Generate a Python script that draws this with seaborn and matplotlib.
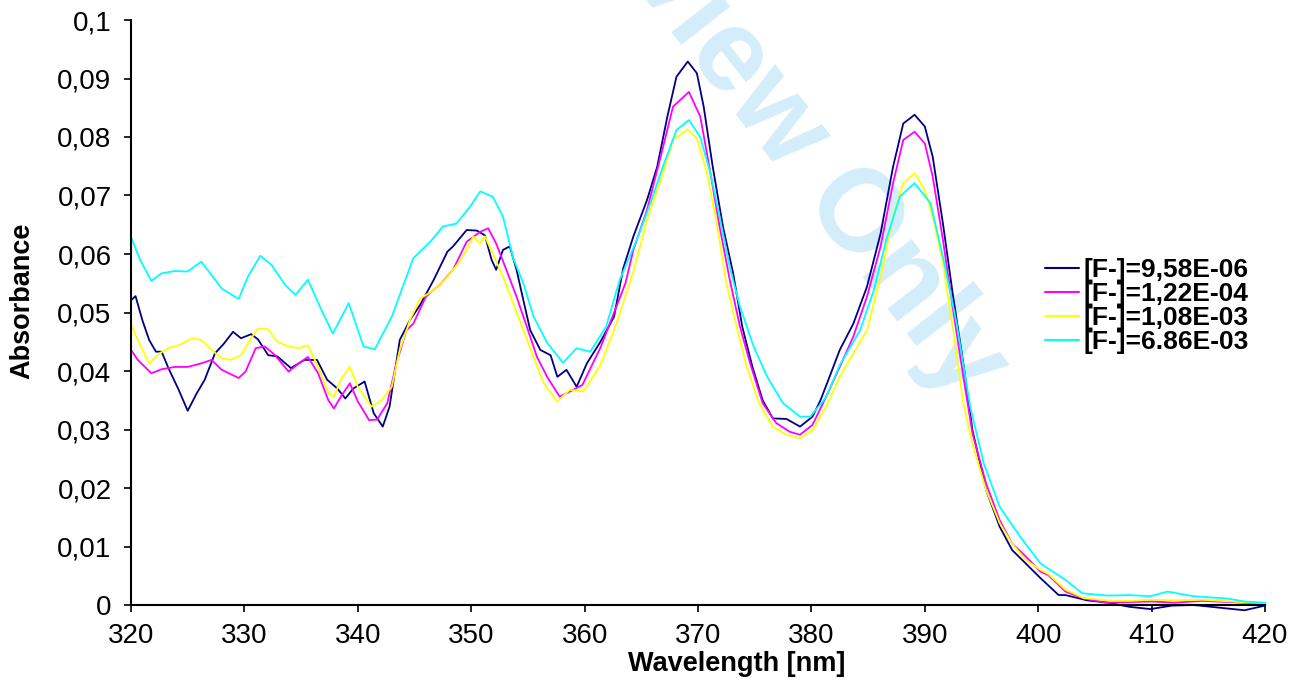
import numpy as np
import pandas as pd
import seaborn as sns
import matplotlib.pyplot as plt

# spectra (wavelength nm, absorbance)
navy_wl = [320, 320.4, 321, 321.6, 322.2, 322.7, 323.3, 324.2, 325, 325.8, 326.5, 327.4, 328.2, 329, 329.7,
           330.6, 331.2, 332.1, 332.9, 334.1, 335.3, 336.4, 337.3, 338.2, 338.9, 339.6, 340.6, 341.4, 342.2,
           342.8, 343.7, 344.6, 345.5, 346.7, 347.9, 348.4, 349.6, 350.5, 351.2, 351.8, 352.2, 352.8, 353.4,
           354, 354.6, 355.2, 356.1, 357, 357.6, 358.4, 359.3, 360.2, 361.4, 362.6, 363.4, 364.3, 365.5,
           366.4, 367.3, 368.1, 369.1, 369.9, 370.5, 371.3, 372.2, 373.1, 373.9, 374.8, 375.7, 376.6, 377.8,
           379, 380.1, 380.8, 381.5, 382.5, 383.7, 384.9, 386.1, 387.2, 388.1, 389.1, 390, 390.7, 391.6,
           392.5, 393.4, 394.2, 395.4, 396.6, 397.7, 398.9, 400.2, 401.8, 402.4, 404.3, 406.2, 408, 409.9,
           411.8, 413.7, 416.7, 418.2, 420]
navy_abs = [0.0521, 0.0528, 0.0487, 0.0453, 0.0433, 0.0433, 0.0405, 0.0368, 0.0332, 0.0362, 0.0385, 0.0430,
            0.0447, 0.0467, 0.0456, 0.0463, 0.0454, 0.0427, 0.0425, 0.0405, 0.0419, 0.0419, 0.0385, 0.0370,
            0.0353, 0.0370, 0.0382, 0.0328, 0.0305, 0.0339, 0.0453, 0.0487, 0.0513, 0.0556, 0.0604, 0.0613,
            0.0641, 0.0640, 0.0632, 0.0590, 0.0573, 0.0607, 0.0613, 0.0573, 0.0521, 0.0470, 0.0436, 0.0427,
            0.0390, 0.0402, 0.0373, 0.0413, 0.0450, 0.0493, 0.0575, 0.0630, 0.0692, 0.0749, 0.0835, 0.0903,
            0.0929, 0.0909, 0.0852, 0.0749, 0.0647, 0.0567, 0.0476, 0.0407, 0.0350, 0.0319, 0.0318, 0.0305,
            0.0322, 0.0350, 0.0385, 0.0436, 0.0481, 0.0544, 0.0635, 0.0749, 0.0823, 0.0838, 0.0818, 0.0766,
            0.0652, 0.0527, 0.0413, 0.0299, 0.0197, 0.0134, 0.0094, 0.0071, 0.0046, 0.0017, 0.0017, 0.0008,
            0.0004, -0.0003, -0.0007, -0.0001, 0.0, -0.0006, -0.0009, -0.0001]

magenta_wl = [320, 320.6, 321.8, 322.7, 323.9, 325, 326.2, 327.1, 328, 329.5, 330.1, 331, 331.8, 332.7,
              333.9, 334.8, 335.6, 336.5, 337.4, 337.9, 338.5, 339.3, 340, 341, 341.7, 342.6, 343.4, 344.3,
              344.9, 346, 347.2, 348.4, 349.6, 350.8, 351.5, 352.2, 353.1, 354, 354.9, 355.8, 356.7, 357.8,
              359, 359.8, 361.4, 362.8, 363.6, 364.3, 365.5, 366.7, 367.8, 369.2, 370.2, 371.1, 371.9, 372.8,
              373.7, 374.6, 375.7, 376.9, 378.1, 379, 380.1, 381.3, 382.5, 383.7, 384.9, 386.1, 387.2, 388.1,
              389.1, 390, 390.7, 391.6, 392.5, 393.4, 394.2, 395.4, 396.6, 397.7, 398.9, 400.2, 400.9, 402.4,
              404, 406, 408, 410, 412, 414.5, 417, 420]
magenta_abs = [0.0436, 0.0419, 0.0396, 0.0403, 0.0407, 0.0407, 0.0413, 0.0419, 0.0402, 0.0388, 0.0399,
               0.0439, 0.0442, 0.0427, 0.0399, 0.0413, 0.0424, 0.0396, 0.0350, 0.0336, 0.0356, 0.0379, 0.0348,
               0.0316, 0.0317, 0.0345, 0.0413, 0.0470, 0.0481, 0.0527, 0.0547, 0.0573, 0.0621, 0.0638, 0.0644,
               0.0618, 0.0573, 0.0527, 0.0476, 0.0424, 0.0390, 0.0356, 0.0368, 0.0376, 0.0440, 0.0510, 0.0550,
               0.0607, 0.0675, 0.0766, 0.0852, 0.0877, 0.0835, 0.0738, 0.0647, 0.0556, 0.0476, 0.0413, 0.0345,
               0.0311, 0.0296, 0.0291, 0.0308, 0.0356, 0.0407, 0.0459, 0.0527, 0.0613, 0.0721, 0.0795, 0.0809,
               0.0789, 0.0732, 0.0624, 0.0504, 0.0390, 0.0294, 0.0208, 0.0145, 0.0105, 0.0083, 0.0057, 0.0051,
               0.0023, 0.0011, 0.0004, 0.0005, 0.0006, 0.0004, 0.0007, 0.0005, 0.0002]

yellow_wl = [320, 320.6, 321.6, 322.5, 323.3, 324.2, 325.4, 326.2, 327.1, 328, 328.8, 329.7, 330.6, 331.2,
             332.1, 332.9, 333.9, 334.8, 335.6, 336.5, 337.4, 337.9, 338.5, 339.3, 340, 341.2, 342.1, 343,
             343.7, 344.6, 345.5, 346.7, 347.9, 349.1, 350.2, 350.8, 351.2, 351.9, 352.8, 353.7, 354.6, 355.5,
             356.4, 357.6, 358.7, 359.9, 361.4, 362.8, 364.3, 365.5, 366.7, 367.8, 369.1, 369.9, 370.8, 371.7,
             372.5, 373.4, 374.3, 375.4, 376.6, 377.8, 379, 380.1, 381.3, 382.5, 383.7, 384.9, 386.1, 387.2,
             388.1, 389.1, 390, 390.7, 391.6, 392.5, 393.4, 394.2, 395.4, 396.6, 397.7, 398.9, 400.2, 400.9,
             402.4, 404, 406, 408, 410, 412, 414.5, 417, 420]
yellow_abs = [0.0479, 0.0453, 0.0413, 0.0430, 0.0439, 0.0444, 0.0456, 0.0453, 0.0436, 0.0422, 0.0419, 0.0427,
              0.0456, 0.0473, 0.0471, 0.0450, 0.0442, 0.0439, 0.0444, 0.0407, 0.0362, 0.0356, 0.0385, 0.0407,
              0.0373, 0.0339, 0.0350, 0.0373, 0.0436, 0.0487, 0.0524, 0.0538, 0.0561, 0.0590, 0.0630, 0.0618,
              0.0630, 0.0601, 0.0561, 0.0516, 0.0470, 0.0424, 0.0379, 0.0348, 0.0368, 0.0365, 0.0410, 0.0481,
              0.0570, 0.0658, 0.0726, 0.0795, 0.0813, 0.0798, 0.0738, 0.0647, 0.0550, 0.0476, 0.0407, 0.0345,
              0.0305, 0.0291, 0.0285, 0.0299, 0.0339, 0.0390, 0.0430, 0.0470, 0.0561, 0.0664, 0.0721, 0.0738,
              0.0709, 0.0664, 0.0584, 0.0470, 0.0345, 0.0276, 0.0197, 0.0140, 0.0105, 0.0077, 0.0060, 0.0053,
              0.0026, 0.0012, 0.0008, 0.0007, 0.0009, 0.0008, 0.0009, 0.0006, 0.0003]

cyan_wl = [320, 320.8, 321.8, 322.7, 323.9, 325, 326.2, 327.1, 328, 329.5, 330.3, 331.4, 332.4, 333.6, 334.5,
           335.6, 336.8, 337.8, 339.2, 340.5, 341.5, 343, 343.7, 344.9, 346.4, 347.5, 348.7, 349.9, 350.8,
           351.9, 352.8, 353.7, 354.6, 355.5, 356.7, 358.1, 359.3, 360.5, 361.9, 363.1, 364.6, 365.8, 366.9,
           368.1, 369.2, 370.2, 371.1, 371.9, 372.8, 373.7, 374.9, 376.1, 377.5, 379, 379.9, 381.3, 382.5,
           384.3, 385.5, 386.6, 387.8, 389.1, 390.5, 391.6, 392.8, 394, 395.2, 396.6, 398.4, 400.2, 402.4,
           403.9, 406.2, 408, 409.9, 411.4, 413.7, 416.7, 418.2, 420]
cyan_abs = [0.0629, 0.0590, 0.0554, 0.0567, 0.0571, 0.0570, 0.0587, 0.0564, 0.0541, 0.0523, 0.0561, 0.0597,
            0.0581, 0.0547, 0.0530, 0.0556, 0.0504, 0.0464, 0.0516, 0.0442, 0.0437, 0.0493, 0.0530, 0.0593,
            0.0621, 0.0647, 0.0652, 0.0681, 0.0707, 0.0698, 0.0664, 0.0593, 0.0550, 0.0493, 0.0448, 0.0414,
            0.0439, 0.0433, 0.0476, 0.0556, 0.0624, 0.0687, 0.0749, 0.0812, 0.0829, 0.0800, 0.0738, 0.0664,
            0.0578, 0.0510, 0.0442, 0.0390, 0.0345, 0.0322, 0.0322, 0.0355, 0.0410, 0.0470, 0.0538, 0.0624,
            0.0698, 0.0721, 0.0687, 0.0595, 0.0482, 0.0339, 0.0242, 0.0168, 0.0117, 0.0071, 0.0043, 0.0020,
            0.0016, 0.0017, 0.0015, 0.0023, 0.0015, 0.0011, 0.0006, 0.0004]

series_labels = ["[F-]=9,58E-06", "[F-]=1,22E-04", "[F-]=1,08E-03", "[F-]=6.86E-03"]
series_colors = ["#000080", "#ff00ff", "#ffff00", "#00ffff"]

x_ticks = [320, 330, 340, 350, 360, 370, 380, 390, 400, 410, 420]
y_ticks = [0, 0.01, 0.02, 0.03, 0.04, 0.05, 0.06, 0.07, 0.08, 0.09, 0.1]
y_tick_labels = ["0", "0,01", "0,02", "0,03", "0,04", "0,05", "0,06", "0,07", "0,08", "0,09", "0,1"]

frames = []
for lab, wl, ab in zip(series_labels,
                       [navy_wl, magenta_wl, yellow_wl, cyan_wl],
                       [navy_abs, magenta_abs, yellow_abs, cyan_abs]):
    frames.append(pd.DataFrame({"wl": wl, "abs": ab, "series": lab}))
df = pd.concat(frames, ignore_index=True)

sns.set_style("white")
plt.rcParams['font.family'] = ['Liberation Sans', 'DejaVu Sans']
plt.rcParams['text.color'] = 'black'
plt.rcParams['axes.labelcolor'] = 'black'
plt.rcParams['xtick.color'] = 'black'
plt.rcParams['ytick.color'] = 'black'

fig = plt.figure(figsize=(13.02, 6.83), dpi=100)
ax = fig.add_axes([131 / 1302, 1 - 605 / 683, (1265 - 131) / 1302, (605 - 20) / 683])
ax.patch.set_alpha(0)

# watermark behind the axes
fig.text(0.583, 0.86, "Preview Only", rotation=-52, ha="center", va="center",
         fontsize=84, fontweight="bold", color="#d4edfa", zorder=-1)

sns.lineplot(data=df, x="wl", y="abs", hue="series", hue_order=series_labels,
             palette=dict(zip(series_labels, series_colors)), sort=False, estimator=None,
             linewidth=1.3, ax=ax)
for ln in ax.get_lines():
    ln.set_clip_on(False)

ax.set_xlim(320, 420)
ax.set_ylim(0, 0.1)
ax.set_xticks(x_ticks)
ax.set_yticks(y_ticks)
ax.set_yticklabels(y_tick_labels)
ax.tick_params(axis="both", labelsize=20, direction="out", length=5, width=1.2, color="black",
               labelcolor="black", left=True, bottom=True)
ax.tick_params(axis="x", pad=8)
ax.tick_params(axis="y", pad=9)
for s in ["top", "right"]:
    ax.spines[s].set_visible(False)
for s in ["left", "bottom"]:
    ax.spines[s].set_color("black")
    ax.spines[s].set_linewidth(1.5)

ax.set_xlabel("Wavelength [nm]", fontsize=19.5, fontweight="bold")
ax.set_ylabel("Absorbance", fontsize=19.5, fontweight="bold")
ax.xaxis.set_label_coords(0.534, -0.078)
ax.yaxis.set_label_coords(-0.084, 0.52)

leg = ax.legend(loc="center left", bbox_to_anchor=(1045 / 1302, 1 - 306 / 683),
                bbox_transform=fig.transFigure, frameon=False,
                prop={"weight": "bold", "size": 19}, handlelength=1.3, handletextpad=0.15,
                labelspacing=0.0, borderpad=0, borderaxespad=0)
for h in leg.get_lines():
    h.set_linewidth(1.5)

fig.savefig("out.png", dpi=100)
